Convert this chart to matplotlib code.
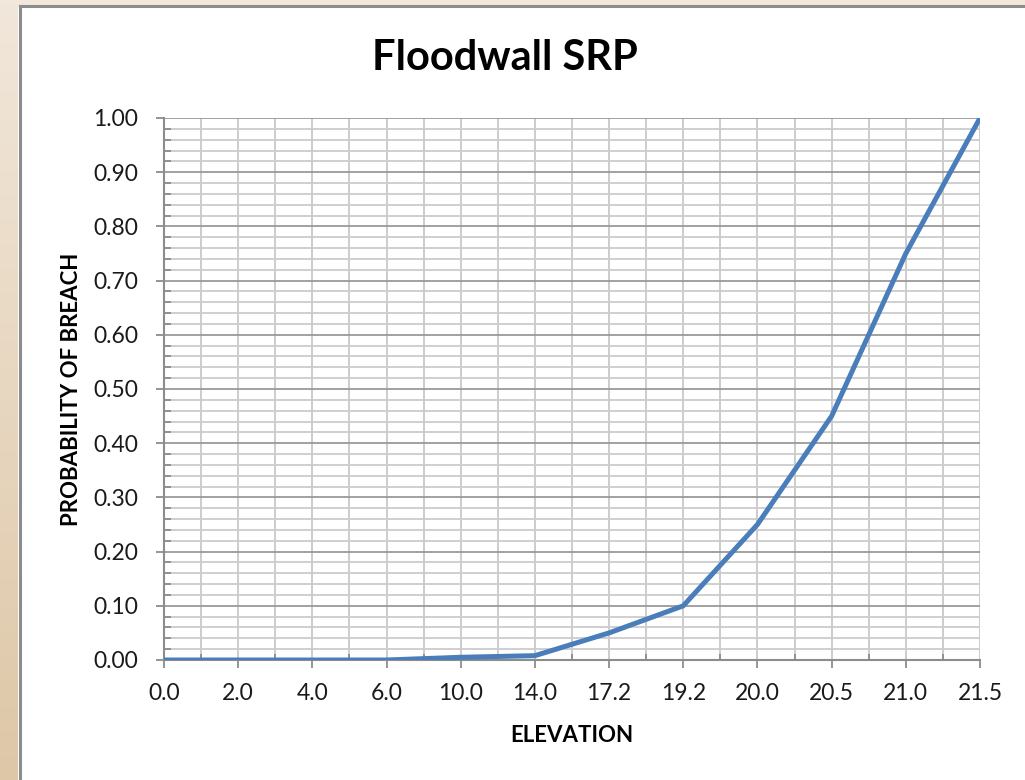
import numpy as np
import matplotlib.pyplot as plt
from matplotlib.patches import Rectangle
from matplotlib.ticker import MultipleLocator, FixedLocator

# data
elevation_labels = ["0.0", "2.0", "4.0", "6.0", "10.0", "14.0", "17.2",
                    "19.2", "20.0", "20.5", "21.0", "21.5"]
prob_breach = [0.0, 0.0, 0.0, 0.0, 0.005, 0.008, 0.05, 0.10, 0.25, 0.45, 0.75, 1.00]

plt.rcParams['font.family'] = ['Lato', 'DejaVu Sans']

W, H = 1025, 780
fig = plt.figure(figsize=(W / 100, H / 100), dpi=100)
fig.patch.set_facecolor('white')

# beige frame at the left and top, gray chart border
grad = np.linspace(0, 1, 256).reshape(-1, 1)
bg = fig.add_axes([0, 0, 18 / W, 1])
bg.imshow(grad, aspect='auto', cmap=plt.matplotlib.colors.LinearSegmentedColormap.from_list(
    'beige', ['#f1e7da', '#dec7a7']), extent=[0, 1, 0, 1])
bg.axis('off')
fig.patches.append(Rectangle((0, 1 - 5 / H), 1, 5 / H, transform=fig.transFigure,
                             facecolor='#f1e7da', edgecolor='none'))
fig.patches.append(Rectangle((18 / W, 1 - 7 / H), 3 / W, 7 / H, transform=fig.transFigure,
                             facecolor='#f1e7da', edgecolor='none'))
fig.lines.append(plt.Line2D([19.5 / W, 19.5 / W], [0, 1 - 6 / H], transform=fig.transFigure,
                            color='#8c8c8c', lw=2.2))
fig.lines.append(plt.Line2D([19.5 / W, 1], [1 - 6 / H, 1 - 6 / H], transform=fig.transFigure,
                            color='#8c8c8c', lw=2.2))

ax = fig.add_axes([164 / W, 1 - 660 / H, (980 - 164) / W, (660 - 118) / H])
x = np.arange(len(elevation_labels))

ax.set_xlim(0, len(elevation_labels) - 1)
ax.set_ylim(0, 1.0)

# grid
for xv in np.arange(0.5, len(elevation_labels) - 1 + 0.01, 0.5):
    ax.axvline(xv, color='#c8c8c8', lw=1.3, zorder=1)
for yv in np.arange(0.02, 1.001, 0.02):
    major = abs(round(yv * 10) - yv * 10) < 1e-6
    ax.axhline(yv, color='#9a9a9a' if major else '#cccccc', lw=1.3, zorder=1)

ax.plot(x, prob_breach, color='#4a7ebb', lw=3.6, zorder=3, solid_capstyle='butt')

ax.set_xticks(x)
ax.set_xticklabels(elevation_labels)
ax.xaxis.set_minor_locator(FixedLocator(x[:-1] + 0.5))
ax.yaxis.set_major_locator(MultipleLocator(0.1))
ax.yaxis.set_minor_locator(MultipleLocator(0.02))
ax.yaxis.set_major_formatter(plt.FuncFormatter(lambda v, p: f"{v:.2f}"))

ax.tick_params(axis='both', which='major', direction='out', length=5.5, width=1.3,
               color='#8c8c8c', labelsize=16.5, labelcolor='#1a1a1a')
ax.tick_params(axis='y', which='major', pad=13)
ax.tick_params(axis='x', which='major', pad=11)
ax.tick_params(axis='y', which='minor', direction='in', length=5, width=1.3, color='#8c8c8c')
ax.tick_params(axis='x', which='minor', direction='in', length=4, width=1.3, color='#8c8c8c')

for s in ['top', 'right']:
    ax.spines[s].set_visible(False)
for s in ['left', 'bottom']:
    ax.spines[s].set_color('#8c8c8c')
    ax.spines[s].set_linewidth(1.5)

fig.text(505 / W, 1 - 58 / H, "Floodwall SRP", fontsize=30, fontweight='bold',
         ha='center', va='center')
fig.text(572 / W, 1 - 735 / H, "ELEVATION", fontsize=16, fontweight='bold',
         ha='center', va='center')
fig.text(72 / W, 1 - 389 / H, "PROBABILITY OF BREACH", fontsize=16, fontweight='bold',
         ha='center', va='center', rotation=90)

fig.savefig("out.png", dpi=100, facecolor=fig.get_facecolor())
